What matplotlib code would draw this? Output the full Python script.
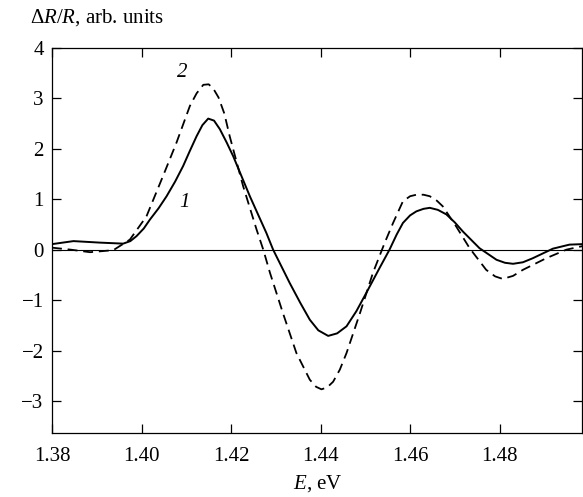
import matplotlib
matplotlib.use('Agg')
import matplotlib.pyplot as plt

# curve 1 (solid)
e1 = [1.3800, 1.3848, 1.3907, 1.3959, 1.3975, 1.3989, 1.4005, 1.4019, 1.4038,
      1.4056, 1.4075, 1.4093, 1.4108, 1.4123, 1.4136, 1.4149, 1.4162, 1.4175,
      1.4190, 1.4205, 1.4242, 1.4279, 1.4294, 1.4331, 1.4355, 1.4376, 1.4395,
      1.4417, 1.4437, 1.4458, 1.4480, 1.4502, 1.4532, 1.4554, 1.4570, 1.4584,
      1.4600, 1.4614, 1.4630, 1.4644, 1.4662, 1.4681, 1.4700, 1.4718, 1.4755,
      1.4793, 1.4812, 1.4830, 1.4852, 1.4874, 1.4919, 1.4956, 1.4985]
r1 = [0.11, 0.17, 0.14, 0.12, 0.17, 0.27, 0.42, 0.60, 0.82,
      1.06, 1.35, 1.66, 1.96, 2.25, 2.47, 2.60, 2.56, 2.39,
      2.13, 1.85, 1.06, 0.33, 0.00, -0.66, -1.06, -1.39, -1.60,
      -1.71, -1.66, -1.52, -1.22, -0.86, -0.36, 0.00, 0.30, 0.53,
      0.68, 0.76, 0.81, 0.83, 0.79, 0.70, 0.54, 0.36, 0.03,
      -0.20, -0.26, -0.28, -0.25, -0.17, 0.02, 0.10, 0.11]

# curve 2 (dashed)
e2 = [1.3800, 1.3842, 1.3885, 1.3937, 1.3974, 1.4011, 1.4048, 1.4078, 1.4108,
      1.4123, 1.4138, 1.4150, 1.4160, 1.4172, 1.4185, 1.4197, 1.4227, 1.4257,
      1.4272, 1.4287, 1.4316, 1.4346, 1.4376, 1.4390, 1.4402, 1.4415, 1.4428,
      1.4443, 1.4458, 1.4488, 1.4517, 1.4543, 1.4562, 1.4584, 1.4600, 1.4614,
      1.4630, 1.4644, 1.4660, 1.4673, 1.4703, 1.4733, 1.4770, 1.4790, 1.4807,
      1.4830, 1.4852, 1.4904, 1.4949, 1.4985]
r2 = [0.04, 0.00, -0.05, -0.01, 0.20, 0.66, 1.46, 2.12, 2.85,
      3.10, 3.27, 3.28, 3.20, 3.02, 2.70, 2.25, 1.26, 0.40,
      0.00, -0.46, -1.26, -2.05, -2.58, -2.72, -2.77, -2.73, -2.62,
      -2.38, -2.05, -1.26, -0.46, 0.13, 0.53, 0.96, 1.06, 1.09,
      1.09, 1.06, 0.97, 0.86, 0.46, 0.03, -0.40, -0.53, -0.58,
      -0.52, -0.40, -0.17, 0.00, 0.07]

xticks = [1.38, 1.40, 1.42, 1.44, 1.46, 1.48]
xticklabels = ['1.38', '1.40', '1.42', '1.44', '1.46', '1.48']
yticks = [-3, -2, -1, 0, 1, 2, 3, 4]
yticklabels = ['\u22123', '\u22122', '\u22121', '0', '1', '2', '3', '4']

plt.rcParams['font.family'] = ['Liberation Serif', 'DejaVu Serif']
plt.rcParams['mathtext.fontset'] = 'custom'
plt.rcParams['mathtext.rm'] = 'Liberation Serif'
plt.rcParams['mathtext.it'] = 'Liberation Serif:italic'

fig = plt.figure(figsize=(5.83, 4.97), dpi=100)
ax = fig.add_axes([0.0892, 0.1294, 0.9098, 0.774])

ax.axhline(0, color='black', lw=0.8)
ax.plot(e1, r1, color='black', lw=1.4, solid_joinstyle='round')
ax.plot(e2, r2, color='black', lw=1.3, dashes=(5.5, 3.2))

ax.set_xlim(1.38, 1.4985)
ax.set_ylim(-3.63, 4)
ax.set_xticks(xticks)
ax.set_xticklabels(xticklabels)
ax.set_yticks(yticks)
ax.set_yticklabels(yticklabels)
ax.tick_params(direction='in', length=6.5, width=0.9, labelsize=15,
               top=True, right=True)
ax.tick_params(axis='x', pad=10)
ax.tick_params(axis='y', pad=6)
for s in ax.spines.values():
    s.set_linewidth(0.9)

ax.text(1.4090, 3.52, '2', fontsize=15, style='italic', ha='center', va='center')
ax.text(1.4097, 0.93, '1', fontsize=15, style='italic', ha='center', va='center')

fig.text(0.052, 0.965, r'$\Delta R/R$, arb. units', fontsize=15, va='center')
fig.text(0.5454, 0.028, r'$E$, eV', fontsize=15, ha='center', va='center')

fig.savefig('out.png', dpi=100)
